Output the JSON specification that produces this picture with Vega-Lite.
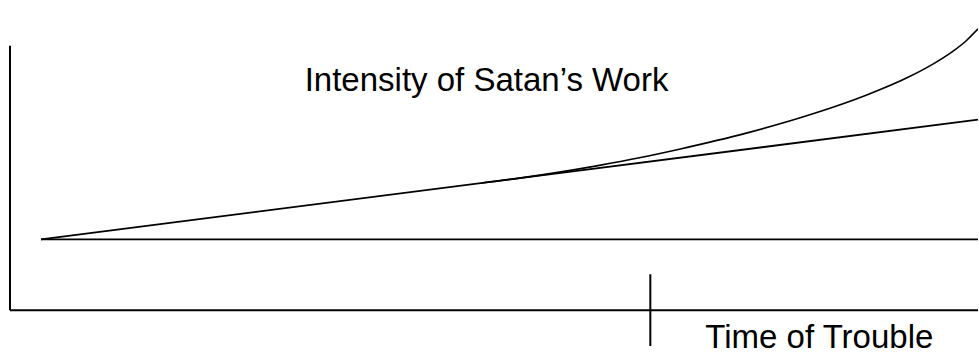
{
  "$schema": "https://vega.github.io/schema/vega-lite/v6.json",
  "width": 979,
  "height": 356,
  "padding": 0,
  "autosize": {"type": "fit", "contains": "padding"},
  "background": "white",
  "config": {"view": {"stroke": null}},
  "datasets": {
    "segments": [
      {"name": "axisV", "t": 0, "v": 0, "t2": 0, "v2": 100, "w": 2},
      {"name": "axisH", "t": 0, "v": 0, "t2": 100, "v2": 0, "w": 2},
      {"name": "baseline", "t": 3.2, "v": 26.79, "t2": 100, "v2": 26.79, "w": 1.6},
      {"name": "linear", "t": 3.2, "v": 26.79, "t2": 100, "v2": 72.08, "w": 1.8},
      {"name": "tick", "t": 66.15, "v": 13.58, "t2": 66.15, "v2": -13.58, "w": 2}
    ],
    "curve": [
      {"t": 48.71, "v": 48.11},
      {"t": 52.63, "v": 49.96},
      {"t": 56.76, "v": 52.23},
      {"t": 60.89, "v": 54.79},
      {"t": 65.02, "v": 57.66},
      {"t": 69.14, "v": 60.91},
      {"t": 76.06, "v": 66.98},
      {"t": 82.87, "v": 74.19},
      {"t": 88.44, "v": 81.32},
      {"t": 92.88, "v": 88.30},
      {"t": 95.25, "v": 92.91},
      {"t": 97.32, "v": 97.74},
      {"t": 98.76, "v": 101.85},
      {"t": 100, "v": 106.42}
    ],
    "labels": [
      {"t": 30.44, "v": 83.0, "label": "Intensity of Satan’s Work"},
      {"t": 71.83, "v": -14.34, "label": "Time of Trouble"}
    ]
  },
  "layer": [
    {
      "data": {"name": "segments"},
      "mark": {"type": "rule", "color": "black"},
      "encoding": {
        "x": {"field": "t", "type": "quantitative", "scale": {"domain": [-1.032, 100], "nice": false, "zero": false}, "axis": null},
        "y": {"field": "v", "type": "quantitative", "scale": {"domain": [-16.98, 117.36], "nice": false, "zero": false}, "axis": null},
        "x2": {"field": "t2"},
        "y2": {"field": "v2"},
        "strokeWidth": {"field": "w", "type": "quantitative", "scale": null, "legend": null}
      }
    },
    {
      "data": {"name": "curve"},
      "mark": {"type": "line", "color": "black", "strokeWidth": 1.6, "interpolate": "monotone", "clip": true},
      "encoding": {
        "x": {"field": "t", "type": "quantitative"},
        "y": {"field": "v", "type": "quantitative"},
        "order": {"field": "t", "type": "quantitative"}
      }
    },
    {
      "data": {"name": "labels"},
      "mark": {"type": "text", "align": "left", "baseline": "alphabetic", "font": "Liberation Sans", "fontSize": 33, "color": "black"},
      "encoding": {
        "x": {"field": "t", "type": "quantitative"},
        "y": {"field": "v", "type": "quantitative"},
        "text": {"field": "label", "type": "nominal"}
      }
    }
  ]
}
